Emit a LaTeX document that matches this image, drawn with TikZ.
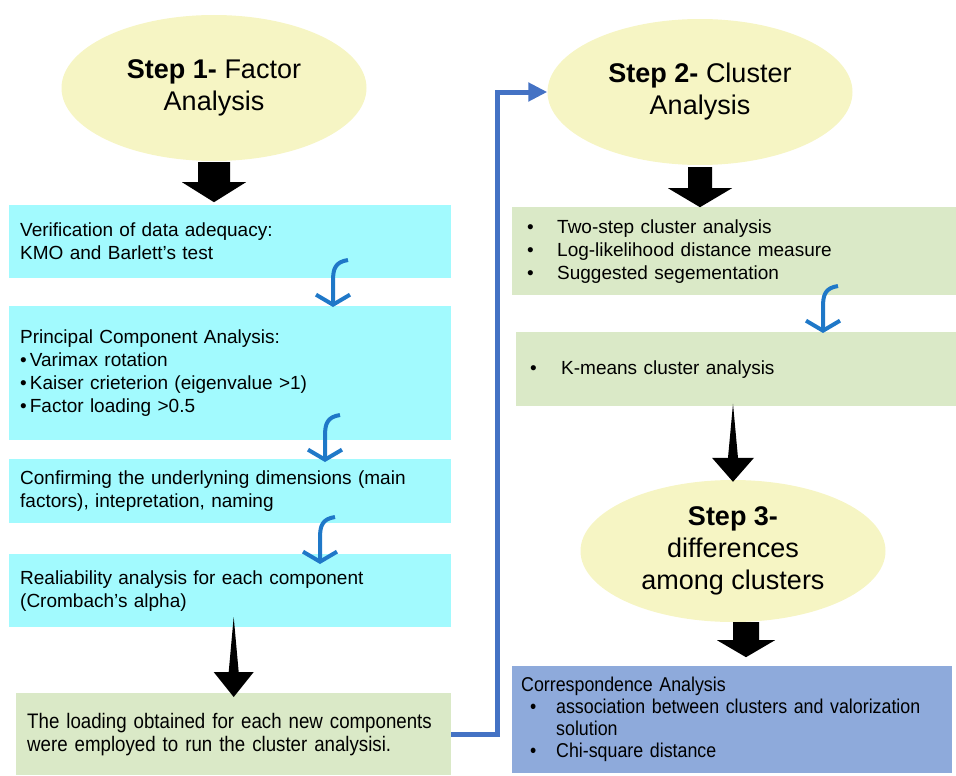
\documentclass[tikz,border=0pt]{standalone}
\usepackage{fontspec}
\setmainfont{Liberation Sans}
\newfontfamily\narrowfont{Liberation Sans}[FakeStretch=0.89]
\usetikzlibrary{shapes.geometric, arrows.meta, positioning, calc}
\definecolor{stepyellow}{HTML}{F6F5C4}
\definecolor{factcyan}{HTML}{A2FAFE}
\definecolor{clustgreen}{HTML}{DAE9C7}
\definecolor{corrblue}{HTML}{8EAADB}
\definecolor{curlyblue}{HTML}{1F78C8}
\definecolor{linkblue}{HTML}{4472C4}

\begin{document}
\begin{tikzpicture}[x=1pt, y=-1pt,
  stepnode/.style={ellipse, fill=stepyellow, minimum width=305pt, minimum height=146pt, inner sep=0pt, align=center, font=\fontsize{27}{32}\selectfont},
  factbox/.style={rectangle, fill=factcyan, anchor=north west, inner xsep=11pt, inner ysep=0pt, minimum width=442pt, text width=420pt, align=left, font=\fontsize{19}{23}\selectfont},
  clustbox/.style={rectangle, fill=clustgreen, anchor=north west, inner ysep=0pt, align=left, font=\fontsize{19}{23}\selectfont},
  curly/.style={draw=curlyblue, line width=4pt, -{Straight Barb[length=10pt, width=34pt]}},
  link/.style={draw=linkblue, line width=5pt, -{Triangle[length=19pt, width=18pt]}}]
\useasboundingbox (0,0) rectangle (956,776);

% step 1
\node [stepnode] (s1) at (214,88) {\textbf{Step 1-} Factor\\Analysis};
\node [factbox, minimum height=73pt] (b1) at (9,205) {Verification of data adequacy:\\KMO and Barlett’s test};
\node [factbox, minimum height=134pt] (b2) at (9,306) {Principal Component Analysis:\\
  \textbullet\hspace{3pt}Varimax rotation\\
  \textbullet\hspace{3pt}Kaiser crieterion (eigenvalue >1)\\
  \textbullet\hspace{3pt}Factor loading >0.5};
\node [factbox, minimum height=64pt] (b3) at (9,459) {Confirming the underlyning dimensions (main\\factors), intepretation, naming};
\node [factbox, minimum height=73pt] (b4) at (9,554) {Realiability analysis for each component\\(Crombach’s alpha)};
\node [clustbox, inner xsep=11pt, minimum width=435pt, text width=413pt, minimum height=82pt, font=\narrowfont\fontsize{21}{23}\selectfont] (b5) at (16,693) {The loading obtained for each new components\\were employed to run the cluster analysisi.};

% step 2
\node [stepnode] (s2) at (700,92) {\textbf{Step 2-} Cluster\\Analysis};
\node [clustbox, inner xsep=15pt, minimum width=445pt, text width=415pt, minimum height=88pt] (b6) at (512,207) {\makebox[30pt][l]{\textbullet}Two-step cluster analysis\\
  \makebox[30pt][l]{\textbullet}Log-likelihood distance measure\\
  \makebox[30pt][l]{\textbullet}Suggested segementation};
\node [clustbox, inner xsep=14pt, minimum width=442pt, text width=414pt, minimum height=74pt] (b7) at (516,332) {\makebox[31pt][l]{\textbullet}K-means cluster analysis};

% step 3
\node [stepnode, minimum height=142pt] (s3) at (733,551) {\textbf{Step 3-}\\differences\\among clusters};
\node [rectangle, fill=corrblue, anchor=north west, inner xsep=9pt, inner ysep=0pt, minimum width=440pt, text width=422pt, minimum height=107pt, align=left, font=\narrowfont\fontsize{20}{22}\selectfont] (b8) at (512,666) {Correspondence Analysis\\
  \hspace*{9pt}\makebox[26pt][l]{\textbullet}association between clusters and valorization\\
  \hspace*{35pt}solution\\
  \hspace*{9pt}\makebox[26pt][l]{\textbullet}Chi-square distance};

% block arrows
\fill (s1.south) +(-16,1) -- +(16,1) -- +(16,21) -- +(32,21) -- +(0,41) -- +(-32,21) -- +(-16,21) -- cycle;
\fill (s2.south) +(-12,2) -- +(12,2) -- +(12,23) -- +(32,23) -- +(0,42) -- +(-32,23) -- +(-12,23) -- cycle;
\fill ([xshift=13pt]s3.south) +(-13,0) -- +(13,0) -- +(13,18) -- +(29,18) -- +(0,35) -- +(-29,18) -- +(-13,18) -- cycle;
\fill (b5.north) +(0,4) -- +(-20,-21) -- +(-5,-21) -- +(0,-76) -- +(5,-21) -- +(20,-21) -- cycle;
\fill (s3.north) +(0,2) -- +(-21,-22) -- +(-5,-22) -- +(0,-76) -- +(5,-22) -- +(21,-22) -- cycle;

% curved arrows
\coordinate (c1) at (333,307);
\coordinate (c2) at (325,462);
\coordinate (c3) at (320,564);
\coordinate (c4) at (823,333);
\foreach \c in {c1,c2,c3,c4}
  \draw [curly] ([shift={(15,-47)}]\c) .. controls ([shift={(2,-45)}]\c) and ([shift={(0,-38)}]\c) .. ([shift={(0,-26)}]\c) -- (\c);

% to step 2
\draw [link] (b5.east) -- ++(46,0) |- (s2.west);
\end{tikzpicture}
\end{document}
